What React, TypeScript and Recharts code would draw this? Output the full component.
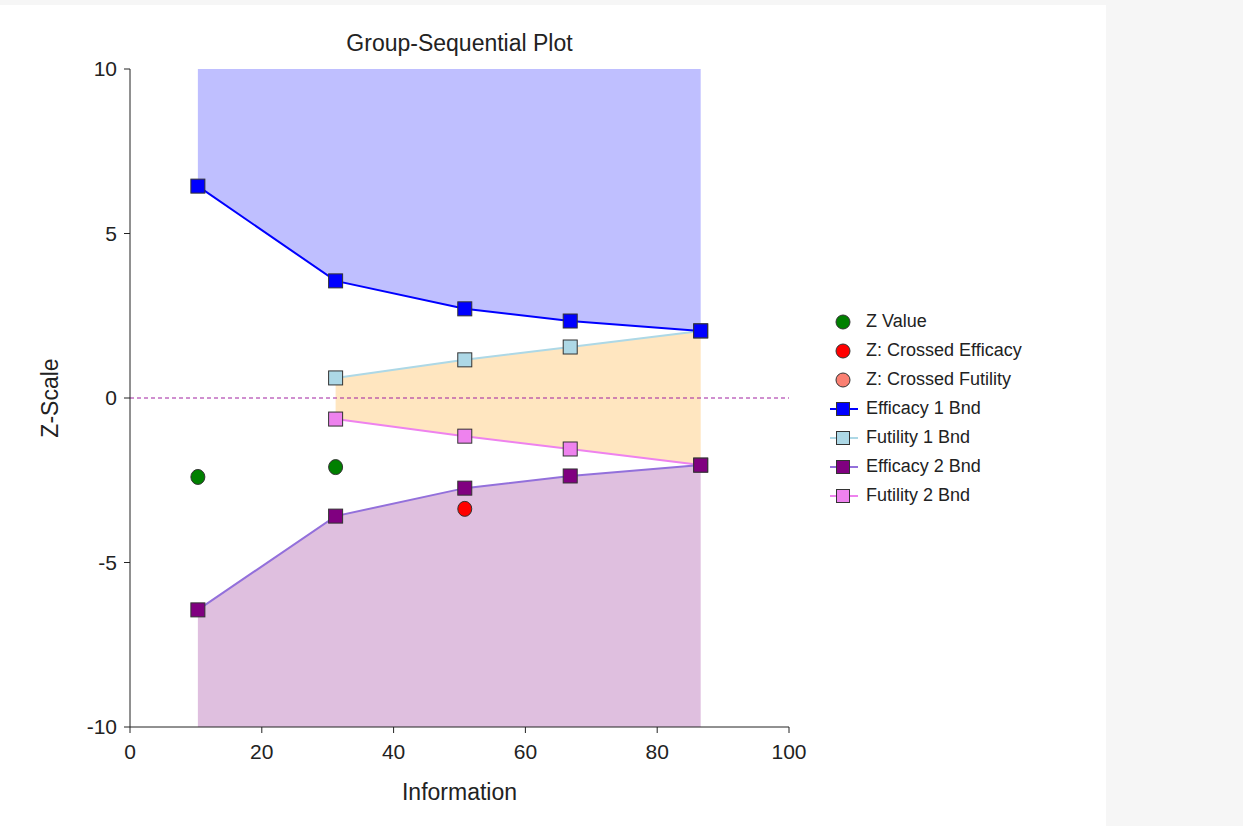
import React from 'react'
import {
  ComposedChart,
  Area,
  Line,
  Scatter,
  XAxis,
  YAxis,
  ReferenceLine,
  Legend,
  Label,
} from 'recharts'

// look-info fractions and boundaries
const information = [10.3, 31.2, 50.8, 66.8, 86.6]
const efficacy1 = [6.44, 3.56, 2.71, 2.34, 2.04]
const futility1 = [null, 0.61, 1.16, 1.55, 2.04]
const efficacy2 = [-6.44, -3.59, -2.74, -2.37, -2.04]
const futility2 = [null, -0.64, -1.16, -1.55, -2.04]

const zInfo = [10.3, 31.2]
const zValues = [-2.4, -2.1]
const crossedEffInfo = [50.8]
const crossedEffValues = [-3.37]
const crossedFutInfo: number[] = []
const crossedFutValues: number[] = []

const xTicks = [0, 20, 40, 60, 80, 100]
const yTicks = [-10, -5, 0, 5, 10]

const legendItems = [
  { name: 'Z Value', kind: 'circle', fill: '#008000', line: '' },
  { name: 'Z: Crossed Efficacy', kind: 'circle', fill: '#ff0000', line: '' },
  { name: 'Z: Crossed Futility', kind: 'circle', fill: '#fa8072', line: '' },
  { name: 'Efficacy 1 Bnd', kind: 'square', fill: '#0000ff', line: '#0000ff' },
  { name: 'Futility 1 Bnd', kind: 'square', fill: '#add8e6', line: '#add8e6' },
  { name: 'Efficacy 2 Bnd', kind: 'square', fill: '#800080', line: '#9370db' },
  { name: 'Futility 2 Bnd', kind: 'square', fill: '#ee82ee', line: '#ee82ee' },
]

const data = information.map((info, i) => ({
  info,
  eff1: efficacy1[i],
  fut1: futility1[i],
  eff2: efficacy2[i],
  fut2: futility2[i],
}))

const zData = zInfo.map((info, i) => ({ info, z: zValues[i] }))
const crossedEffData = crossedEffInfo.map((info, i) => ({ info, z: crossedEffValues[i] }))
const crossedFutData = crossedFutInfo.map((info, i) => ({ info, z: crossedFutValues[i] }))

const FONT = '"Liberation Sans", Arial, sans-serif'

const squareDot = (fill: string) => (props: any) => {
  const { cx, cy, value, index } = props
  if (value == null || cx == null || cy == null) return <g key={`e-${index}`} />
  return (
    <rect
      key={`s-${index}`}
      x={cx - 7}
      y={cy - 7}
      width={14}
      height={14}
      fill={fill}
      stroke="#333"
      strokeWidth={1}
    />
  )
}

const circleShape = (fill: string) => (props: any) => {
  const { cx, cy } = props
  return <ellipse cx={cx} cy={cy} rx={7} ry={7.5} fill={fill} stroke="#333" strokeWidth={1} />
}

function LegendBox() {
  return (
    <div style={{ fontFamily: FONT, fontSize: 18, color: '#222' }}>
      {legendItems.map((it) => (
        <div key={it.name} style={{ display: 'flex', alignItems: 'center', height: 29 }}>
          <svg width={32} height={20} style={{ marginRight: 6 }}>
            {it.line && <line x1={2} y1={10} x2={30} y2={10} stroke={it.line} strokeWidth={2} />}
            {it.kind === 'circle' ? (
              <circle cx={15} cy={10} r={7} fill={it.fill} stroke="#333" strokeWidth={1} />
            ) : (
              <rect x={8.5} y={3.5} width={13} height={13} fill={it.fill} stroke="#333" strokeWidth={1} />
            )}
          </svg>
          <span>{it.name}</span>
        </div>
      ))}
    </div>
  )
}

const yLabel = (props: any) => {
  const { viewBox } = props
  const x = viewBox.x - 20
  const y = viewBox.y + viewBox.height / 2
  return (
    <text
      x={x}
      y={y}
      transform={`rotate(-90, ${x}, ${y})`}
      textAnchor="middle"
      dominantBaseline="central"
      fontSize={23}
      fill="#222"
    >
      Z-Scale
    </text>
  )
}

export default function App() {
  return (
    <div
      style={{
        position: 'fixed',
        left: 0,
        top: 0,
        width: 1243,
        height: 826,
        background: '#f6f6f6',
        fontFamily: FONT,
      }}
    >
      <div
        style={{
          position: 'absolute',
          left: 0,
          top: 5,
          width: 1106,
          height: 821,
          background: '#fff',
        }}
      >
        <div
          style={{
            position: 'absolute',
            left: 130,
            width: 659,
            top: 25,
            textAlign: 'center',
            fontSize: 23,
            color: '#222',
          }}
        >
          Group-Sequential Plot
        </div>
        <ComposedChart
          width={1106}
          height={821}
          data={data}
          margin={{ top: 64, right: 317, bottom: 26, left: 70 }}
        >
          <XAxis
            type="number"
            dataKey="info"
            domain={[0, 100]}
            ticks={xTicks}
            tickSize={6}
            tickMargin={11}
            height={73}
            stroke="#222"
            tick={{ fill: '#222', fontSize: 21 }}
            allowDataOverflow
          >
            <Label value="Information" position="insideBottom" offset={0} fontSize={23} fill="#222" />
          </XAxis>
          <YAxis
            type="number"
            domain={[-10, 10]}
            ticks={yTicks}
            tickSize={6}
            tickMargin={7}
            width={60}
            stroke="#222"
            tick={{ fill: '#222', fontSize: 21 }}
            allowDataOverflow
          >
            <Label content={yLabel} />
          </YAxis>
          <Area
            dataKey={(d: any) => [d.eff1, 10]}
            stroke="none"
            fill="#bfbfff"
            fillOpacity={1}
            isAnimationActive={false}
            activeDot={false}
            legendType="none"
          />
          <Area
            dataKey={(d: any) => (d.fut1 == null ? null : [d.fut2, d.fut1])}
            stroke="none"
            fill="#ffe6c0"
            fillOpacity={1}
            isAnimationActive={false}
            activeDot={false}
            legendType="none"
          />
          <Area
            dataKey={(d: any) => [-10, d.eff2]}
            stroke="none"
            fill="#dfbfdf"
            fillOpacity={1}
            isAnimationActive={false}
            activeDot={false}
            legendType="none"
          />
          <ReferenceLine y={0} stroke="#a020a0" strokeDasharray="4 3" strokeWidth={1} />
          <Line
            dataKey="fut1"
            stroke="#add8e6"
            strokeWidth={2}
            dot={squareDot('#add8e6')}
            isAnimationActive={false}
          />
          <Line
            dataKey="fut2"
            stroke="#ee82ee"
            strokeWidth={2}
            dot={squareDot('#ee82ee')}
            isAnimationActive={false}
          />
          <Line
            dataKey="eff1"
            stroke="#0000ff"
            strokeWidth={2}
            dot={squareDot('#0000ff')}
            isAnimationActive={false}
          />
          <Line
            dataKey="eff2"
            stroke="#9370db"
            strokeWidth={2}
            dot={squareDot('#800080')}
            isAnimationActive={false}
          />
          <Scatter data={zData} dataKey="z" shape={circleShape('#008000')} isAnimationActive={false} />
          <Scatter data={crossedEffData} dataKey="z" shape={circleShape('#ff0000')} isAnimationActive={false} />
          <Scatter data={crossedFutData} dataKey="z" shape={circleShape('#fa8072')} isAnimationActive={false} />
          <Legend
            layout="vertical"
            align="center"
            verticalAlign="middle"
            content={() => <LegendBox />}
            wrapperStyle={{ left: 828, top: 302, width: 240 }}
          />
        </ComposedChart>
      </div>
    </div>
  )
}
